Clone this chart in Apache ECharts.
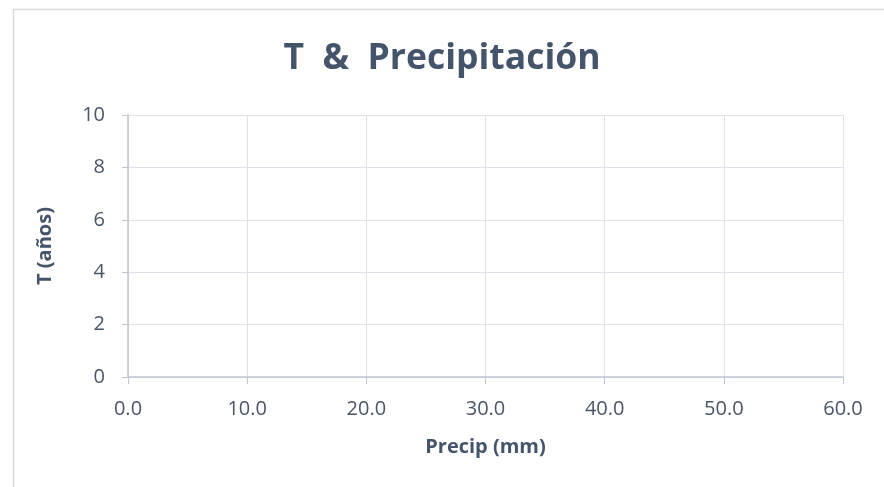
<!DOCTYPE html>
<html>
<head>
<meta charset="utf-8">
<script src="https://cdn.jsdelivr.net/npm/echarts@6/dist/echarts.min.js"></script>
<style>html,body{margin:0;padding:0;background:#fff}#c{width:884px;height:487px}</style>
</head>
<body>
<div id="c"></div>
<script>
const titleText = 'T  &  Precipitación';
const xName = 'Precip (mm)';
const yName = 'T (años)';
const xMin = 0, xMax = 60, xStep = 10;
const yMin = 0, yMax = 10, yStep = 2;
const seriesPoints = []; // the reference chart shows no plotted data

const chart = echarts.init(document.getElementById('c'));
const txt = '#44546a';
chart.setOption({
  animation: false,
  backgroundColor: '#fff',
  graphic: [{
    type: 'rect', left: 11, top: 7,
    shape: { width: 900, height: 520 },
    style: { fill: 'none', stroke: '#d9d9d9', lineWidth: 1.5 }
  }],
  title: {
    text: titleText, left: 'center', top: 36,
    textStyle: { fontFamily: 'Open Sans', fontWeight: 'bold', fontSize: 35.5, color: txt }
  },
  grid: { left: 128, right: 41, top: 115, bottom: 110 },
  xAxis: {
    type: 'value', min: xMin, max: xMax, interval: xStep,
    name: xName, nameLocation: 'middle', nameGap: 60,
    nameTextStyle: { fontFamily: 'Open Sans', fontWeight: 'bold', fontSize: 20, color: txt },
    axisLine: { show: true, lineStyle: { color: '#bfc6d1', width: 1.5 } },
    axisTick: { show: true, length: 7, lineStyle: { color: '#bfc6d1' } },
    axisLabel: { margin: 22, fontFamily: 'Open Sans', fontSize: 20, color: '#4a5568', formatter: v => v.toFixed(1) },
    splitLine: { show: true, lineStyle: { color: '#dde2ea', width: 1 } }
  },
  yAxis: {
    type: 'value', min: yMin, max: yMax, interval: yStep,
    name: yName, nameLocation: 'middle', nameGap: 73,
    nameTextStyle: { fontFamily: 'Open Sans', fontWeight: 'bold', fontSize: 20, color: txt },
    axisLine: { show: true, lineStyle: { color: '#bfc6d1', width: 1.5 } },
    axisTick: { show: true, length: 6, lineStyle: { color: '#bfc6d1' } },
    axisLabel: { margin: 23, fontFamily: 'Open Sans', fontSize: 20, color: '#4a5568' },
    splitLine: { show: true, lineStyle: { color: '#dde2ea', width: 1 } }
  },
  series: [{ type: 'scatter', data: seriesPoints }]
});
</script>
</body>
</html>
